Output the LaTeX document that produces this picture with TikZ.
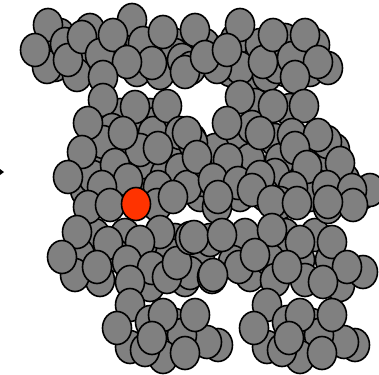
\documentclass[tikz,border=0pt]{standalone}
\definecolor{ballgray}{HTML}{808080}
\definecolor{ballred}{HTML}{FF3300}
\tikzset{
  ball/.style={draw=black, line width=1.6pt, fill=ballgray},
  redball/.style={draw=black, line width=1.6pt, fill=ballred},
}
\begin{document}
\begin{tikzpicture}[x=1pt,y=-1pt]
\useasboundingbox (0,0) rectangle (379,374);
% filler atoms deep in each cluster (mostly hidden)
\foreach \x/\y in {60/35,90/30,120/40,145/45,175/45,205/45,235/40,260/45,285/40,315/45,
                   55/65,90/60,115/55,150/65,175/55,230/70,255/75,285/70,310/70}
  \path[ball] (\x,\y) ellipse [x radius=14.5, y radius=16.5];
\foreach \x/\y in {120/115,150/115,100/130,135/130,165/135,195/150,90/150,120/150,150/160,175/160,
                   80/170,105/170,140/170,165/175,195/175,215/175,85/190,120/195,145/195,200/195}
  \path[ball] (\x,\y) ellipse [x radius=14.5, y radius=16.5];
\foreach \x/\y in {255/105,290/110,240/140,275/140,305/145,335/150,215/150,250/160,280/160,320/160,
                   230/175,275/175,310/180,345/180,240/195,265/195,310/195,340/195}
  \path[ball] (\x,\y) ellipse [x radius=14.5, y radius=16.5];
\foreach \x/\y in {95/235,125/235,175/240,80/255,115/255,145/255,170/255,200/255,100/280,150/285,185/280}
  \path[ball] (\x,\y) ellipse [x radius=14.5, y radius=16.5];
\foreach \x/\y in {245/235,285/235,315/235,250/275,270/260,300/260,330/260,305/280,340/285,275/280}
  \path[ball] (\x,\y) ellipse [x radius=14.5, y radius=16.5];
% top band, back
\foreach \x/\y in {48/25,47/67,65/44,77/75,132/20,143/43,137/70,160/73,152/63,182/60,240/25,240/68,267/75,277/67,328/68,217/67,191/68}
  \path[ball] (\x,\y) ellipse [x radius=14.5, y radius=16.5];
% top band, front
\foreach \x/\y in {35/50,68/60,82/37,100/55,113/35,127/62,103/77,163/32,185/72,195/30,205/57,227/50,263/62,273/35,292/58,305/35,318/62,295/77}
  \path[ball] (\x,\y) ellipse [x radius=14.5, y radius=16.5];
% middle-left cluster, back
\foreach \x/\y in {103/100,112/130,157/123,153/133,192/140,103/142,140/150,93/177}
  \path[ball] (\x,\y) ellipse [x radius=14.5, y radius=16.5];
% middle-left cluster, front
\foreach \x/\y in {88/123,135/107,167/106,123/133,180/133,158/148,82/152,115/165,197/163,180/170,68/177,128/180,203/180,102/187,158/187,187/187,88/207,110/205,157/205,173/197,217/207}
  \path[ball] (\x,\y) ellipse [x radius=14.5, y radius=16.5];
% middle-right cluster, back
\foreach \x/\y in {240/97,252/127,327/142,362/193,193/143,370/190}
  \path[ball] (\x,\y) ellipse [x radius=14.5, y radius=16.5];
% middle-right cluster, front
\foreach \x/\y in {227/123,273/106,304/106,260/133,292/135,318/135,295/148,187/133,197/157,228/160,213/180,238/183,260/177,307/167,340/163,293/188,327/187,352/190,218/197,252/190,280/203,272/202,297/203,328/207,353/205,328/202}
  \path[ball] (\x,\y) ellipse [x radius=14.5, y radius=16.5];
% lower-left band, back
\foreach \x/\y in {77/232,160/232,75/275,190/273}
  \path[ball] (\x,\y) ellipse [x radius=14.5, y radius=16.5];
% lower-left band, front
\foreach \x/\y in {62/257,108/243,140/242,97/267,127/262,152/268,167/277,177/263,190/238,210/240,212/277,130/282}
  \path[ball] (\x,\y) ellipse [x radius=14.5, y radius=16.5];
% lower-right band, back
\foreach \x/\y in {272/230,363/272,233/262,194/237}
  \path[ball] (\x,\y) ellipse [x radius=14.5, y radius=16.5];
% lower-right band, front
\foreach \x/\y in {222/235,239/267,213/275,255/255,300/242,332/242,287/267,347/267,323/282}
  \path[ball] (\x,\y) ellipse [x radius=14.5, y radius=16.5];
% bottom clusters (same motif, shifted by 137)
\foreach \dx in {0,137} {
  \foreach \x/\y in {218/345,207/342,130/305,150/322,175/325,130/347,182/335,163/357,145/350,
                     117/328,163/315,195/315,152/338,185/353}
    \path[ball] (\x+\dx,\y) ellipse [x radius=14.5, y radius=16.5];
}
% red atom
\path[redball] (136,204) ellipse [x radius=14.5, y radius=16.5];
% small arrow tip at left edge
\fill[black] (0,169) -- (4,172) -- (0,175) -- cycle;
\end{tikzpicture}
\end{document}
